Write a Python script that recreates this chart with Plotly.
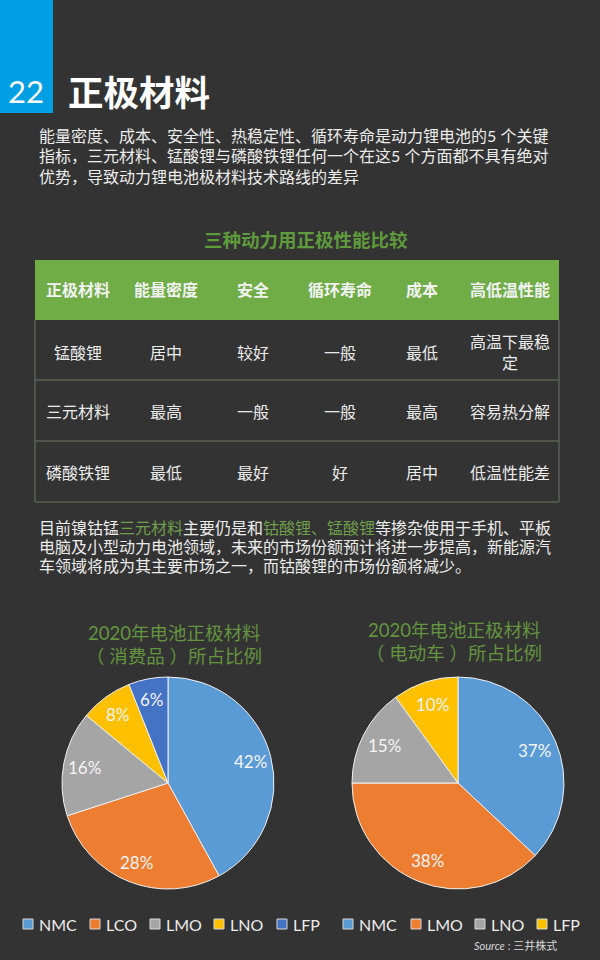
"""Lithium cathode materials infographic page: comparison table and two share pies."""

import math

import plotly.graph_objects as go

W, H = 600, 960
BG = "#333333"
TEXT = "#ececec"
GREEN = "#70ad47"
TITLE_GREEN = "#64943f"
LATIN = "Lato"
# Lato first: its tighter line box keeps the close-set paragraph lines apart
CJK = "Lato, Noto Sans CJK SC"

PAGE_NO = "22"
PAGE_TITLE = "正极材料"
INTRO_LINES = [
    "能量密度、成本、安全性、热稳定性、循环寿命是动力锂电池的5 个关键",
    "指标，三元材料、锰酸锂与磷酸铁锂任何一个在这5 个方面都不具有绝对",
    "优势，导致动力锂电池极材料技术路线的差异",
]
TABLE_TITLE = "三种动力用正极性能比较"
TABLE_HEADER = ["正极材料", "能量密度", "安全", "循环寿命", "成本", "高低温性能"]
TABLE_ROWS = [
    ["锰酸锂", "居中", "较好", "一般", "最低", "高温下最稳<br>定"],
    ["三元材料", "最高", "一般", "一般", "最高", "容易热分解"],
    ["磷酸铁锂", "最低", "最好", "好", "居中", "低温性能差"],
]
NOTE_LINES = [
    '目前镍钴锰<span style="color:#6f9e4c">三元材料</span>主要仍是和'
    '<span style="color:#6f9e4c">钴酸锂、锰酸锂</span>等掺杂使用于手机、平板',
    "电脑及小型动力电池领域，未来的市场份额预计将进一步提高，新能源汽",
    "车领域将成为其主要市场之一，而钴酸锂的市场份额将减少。",
]

LEFT_TITLE = ["2020年电池正极材料", "（ 消费品 ）所占比例"]
LEFT_LABELS = ["NMC", "LCO", "LMO", "LNO", "LFP"]
LEFT_VALUES = [42, 28, 16, 8, 6]
LEFT_COLORS = ["#5b9bd5", "#ed7d31", "#a5a5a5", "#ffc000", "#4472c4"]

RIGHT_TITLE = ["2020年电池正极材料", "（ 电动车 ）所占比例"]
RIGHT_LABELS = ["NMC", "LMO", "LNO", "LFP"]
RIGHT_VALUES = [37, 38, 15, 10]
RIGHT_COLORS = ["#5b9bd5", "#ed7d31", "#a5a5a5", "#ffc000"]

SOURCE = "<i>Source</i> : 三井株式"

# page layout, in pixels from the top left
COL_X = [78, 166, 253, 340, 422, 510]
ROW_Y = [352, 411, 472]
RULE_Y = [320, 380, 441, 502]
LEFT_LEGEND_X = [23, 90, 150, 214, 277]
RIGHT_LEGEND_X = [343, 411, 475, 537]


def fx(x):
    return x / W


def fy(y):
    return 1 - y / H


def label(x, y, text, size, color=TEXT, anchor="left", family=CJK):
    return dict(
        x=fx(x),
        y=fy(y),
        xref="paper",
        yref="paper",
        text=text,
        showarrow=False,
        xanchor=anchor,
        yanchor="middle",
        borderpad=0,
        align="center" if anchor == "center" else "left",
        font=dict(size=size, color=color, family=family),
    )


def rect(x0, y0, x1, y1, fill, line=None, width=0):
    return dict(
        type="rect",
        xref="paper",
        yref="paper",
        x0=fx(x0),
        x1=fx(x1),
        y0=fy(y0),
        y1=fy(y1),
        fillcolor=fill,
        line=dict(color=line or fill, width=width),
    )


def rule(x0, y0, x1, y1):
    return dict(
        type="line",
        xref="paper",
        yref="paper",
        x0=fx(x0),
        x1=fx(x1),
        y0=fy(y0),
        y1=fy(y1),
        line=dict(color="#5b6155", width=1.5),
    )


def pie(labels, values, colors, cx, cy, r=106):
    return go.Pie(
        labels=labels,
        values=values,
        sort=False,
        direction="clockwise",
        rotation=0,
        textinfo="none",
        marker=dict(colors=colors, line=dict(color="#f0f0f0", width=1)),
        domain=dict(x=[fx(cx - r), fx(cx + r)], y=[fy(cy + r), fy(cy - r)]),
        showlegend=False,
    )


def pie_labels(values, cx, cy, r):
    # percent labels sit near the rim, pie's own inside text stays too close to the centre
    out = []
    total = sum(values)
    start = 0
    for v in values:
        angle = 2 * math.pi * (start + v / 2) / total
        x = cx + r * math.sin(angle)
        y = cy - r * math.cos(angle)
        out.append(label(x, y, f"{v}%", 17, "#f4f4f4", "center", LATIN))
        start += v
    return out


fig = go.Figure()
fig.add_trace(pie(LEFT_LABELS, LEFT_VALUES, LEFT_COLORS, 168, 783))
fig.add_trace(pie(RIGHT_LABELS, RIGHT_VALUES, RIGHT_COLORS, 458, 783))

shapes = [rect(0, 0, 53, 113, "#009fe3"), rect(35, 260, 559, 320, GREEN)]
shapes += [rule(35, y, 559, y) for y in RULE_Y[1:]]
shapes += [rule(35, 320, 35, 502), rule(559, 320, 559, 502)]

notes = [
    label(26, 91, PAGE_NO, 31, "#ffffff", "center", LATIN),
    label(67, 92, f"<b>{PAGE_TITLE}</b>", 35.5, "#ffffff"),
    label(306, 240, f"<b>{TABLE_TITLE}</b>", 18.5, "#5f9a3c", "center"),
    label(473, 945, SOURCE, 11, "#d8d8d8"),
]
for i, line in enumerate(INTRO_LINES):
    notes.append(label(38, 136 + i * 20, line, 16))
for i, line in enumerate(NOTE_LINES):
    notes.append(label(38, 527 + i * 19.3, line, 16))
for i, line in enumerate(LEFT_TITLE):
    notes.append(label(174, 633 + i * 23, line, 18.5, TITLE_GREEN, "center"))
for i, line in enumerate(RIGHT_TITLE):
    notes.append(label(454, 630 + i * 23, line, 18.5, TITLE_GREEN, "center"))
for x, head in zip(COL_X, TABLE_HEADER):
    notes.append(label(x, 290, f"<b>{head}</b>", 16, "#f2f2f2", "center"))
for y, row in zip(ROW_Y, TABLE_ROWS):
    for x, cell in zip(COL_X, row):
        notes.append(label(x, y, cell, 16, TEXT, "center"))

notes += pie_labels(LEFT_VALUES, 168, 783, 85)
notes += pie_labels(RIGHT_VALUES, 458, 783, 83)

for names, colors, xs in [
    (LEFT_LABELS, LEFT_COLORS, LEFT_LEGEND_X),
    (RIGHT_LABELS, RIGHT_COLORS, RIGHT_LEGEND_X),
]:
    for name, color, x in zip(names, colors, xs):
        shapes.append(rect(x, 919, x + 10, 929, color, "#d8d8d8", 1))
        notes.append(label(x + 15, 924, name, 16, TEXT, "left", LATIN))

fig.update_layout(
    width=W,
    height=H,
    margin=dict(l=0, r=0, t=0, b=0),
    paper_bgcolor=BG,
    plot_bgcolor=BG,
    shapes=shapes,
    annotations=notes,
)

# browser default body margin would push the page 8px in
fig.write_html(
    "out.html",
    config=dict(displayModeBar=False),
    post_script="document.body.style.margin = '0';",
)
